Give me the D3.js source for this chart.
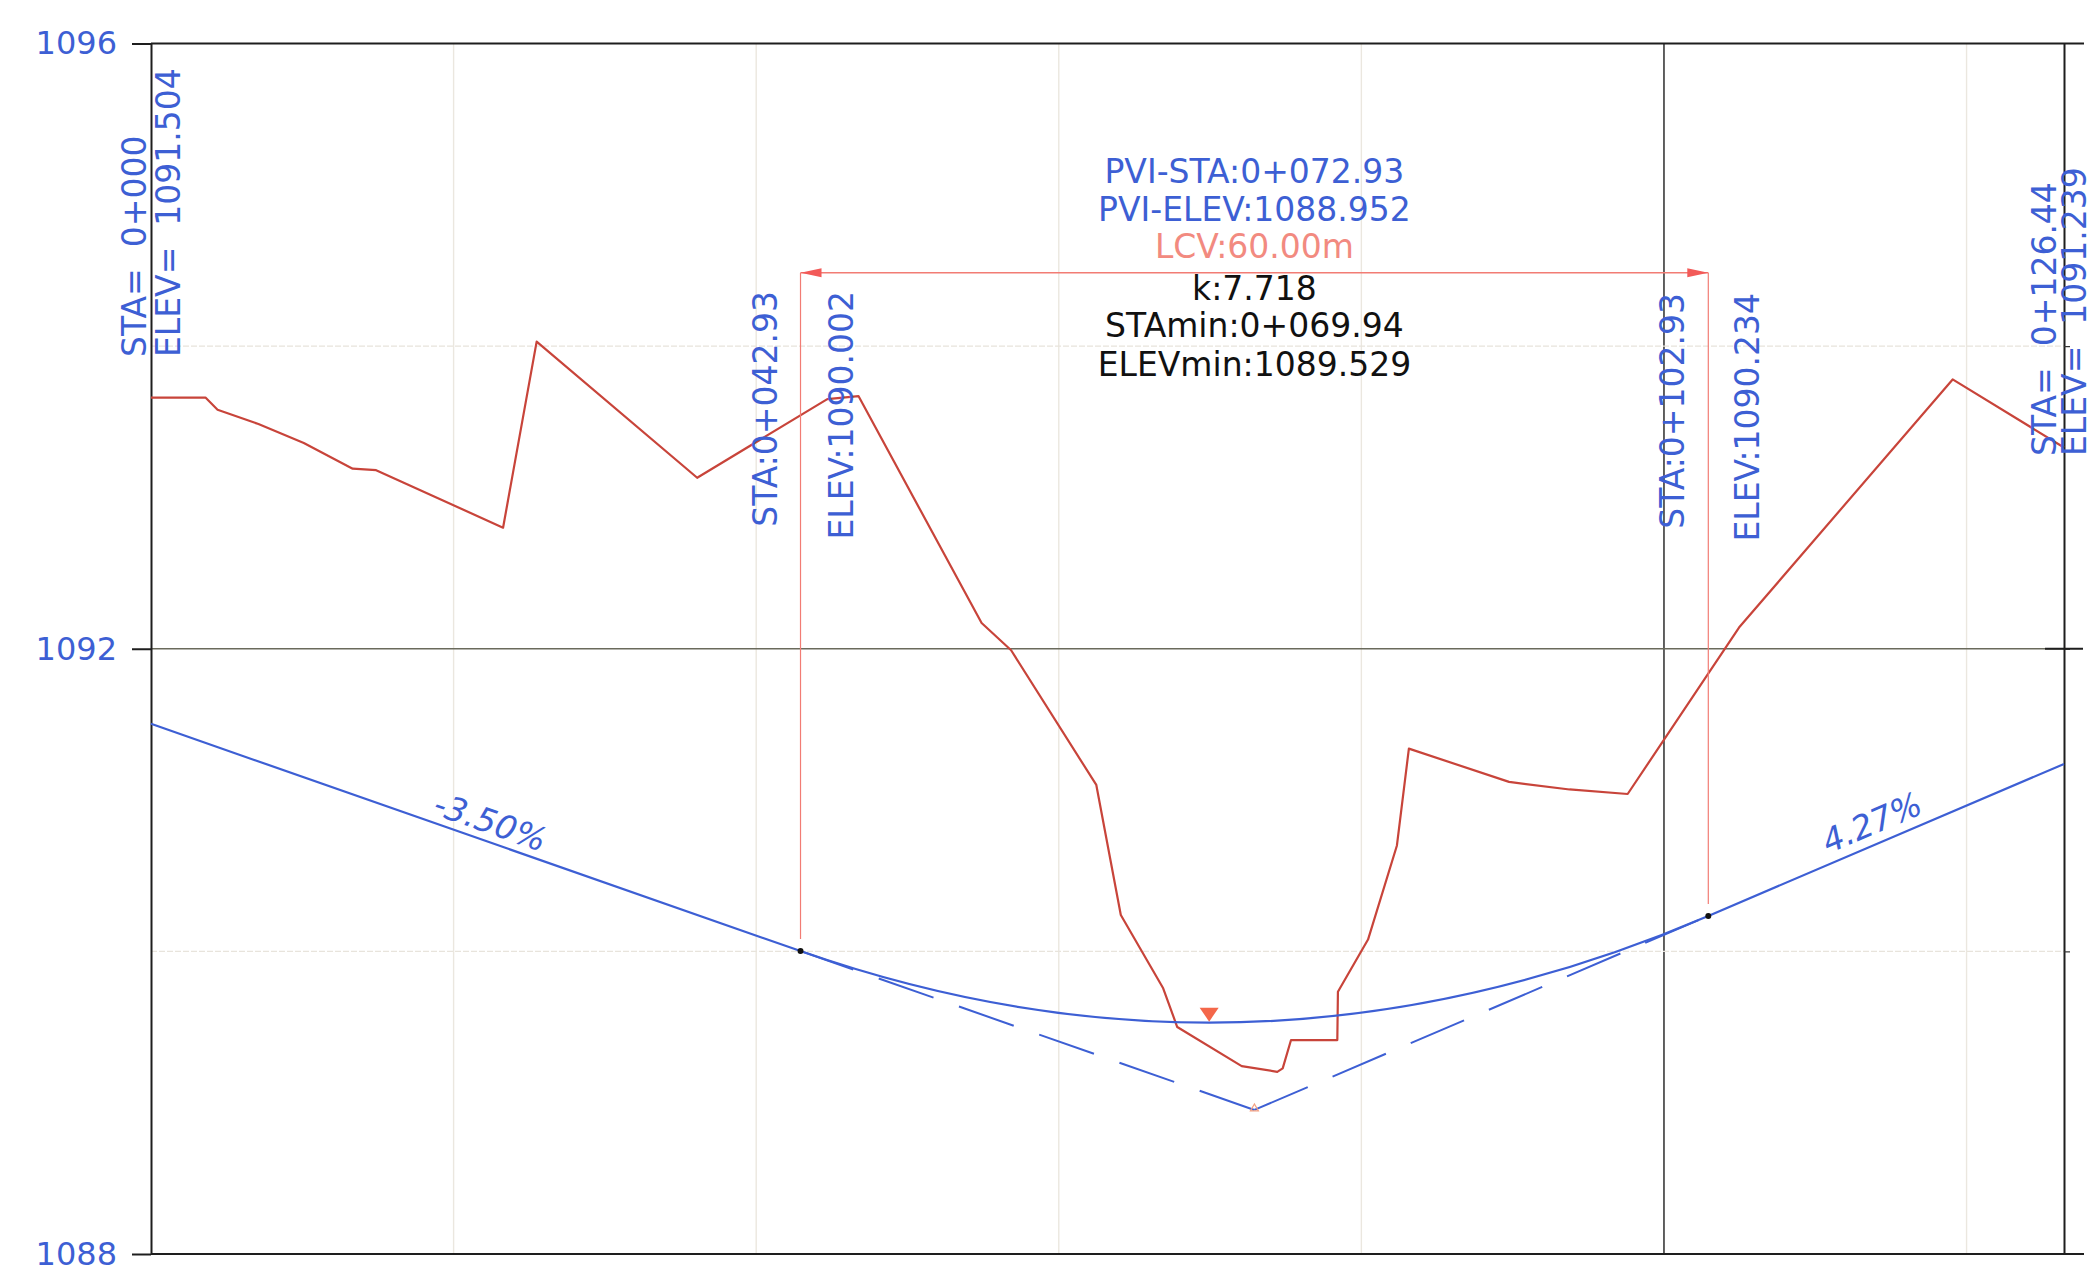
<!DOCTYPE html>
<html>
<head>
<meta charset="utf-8">
<script src="https://cdn.jsdelivr.net/npm/d3@7"></script>
<style>
  html, body { margin: 0; padding: 0; background: #ffffff; }
  svg { display: block; }
  text { font-family: "DejaVu Sans", "Liberation Sans", sans-serif; white-space: pre; }
</style>
</head>
<body>
<svg id="chart" width="2095" height="1273"></svg>
<script>
// ---------------- data ----------------
const yTickLabels = [1096, 1092, 1088];
const yMinorGrid = [1094, 1090];
const gridStations = [20, 40, 60, 80, 100, 120];

// existing ground profile (station m, elevation m)
const groundSta = [0, 3.6, 4.4, 7.1, 10.1, 13.33, 14.88, 23.27, 25.49, 36.1, 44.7, 46.76,
  54.9, 56.85, 62.48, 64.1, 66.9, 67.83, 72.09, 74.44, 74.8, 75.35, 78.41, 78.45,
  80.44, 82.35, 83.14, 89.76, 93.76, 97.6, 104.96, 119.08, 126.44];
const groundElev = [1093.66, 1093.66, 1093.58, 1093.485, 1093.36, 1093.19, 1093.18, 1092.80, 1094.03, 1093.13, 1093.65, 1093.67,
  1092.17, 1091.99, 1091.10, 1090.24, 1089.756, 1089.50, 1089.242, 1089.204, 1089.227, 1089.414, 1089.414, 1089.733,
  1090.078, 1090.70, 1091.34, 1091.12, 1091.07, 1091.04, 1092.14, 1093.78, 1093.33];

// design grade line: start, PVI, end
const pviSta = [0, 72.93, 126.44];
const pviElev = [1091.504, 1088.952, 1091.239];
const pviStaLabels = ["0+000", "0+072.93", "0+126.44"];
// vertical curve: PVC and PVT
const vcSta = [42.93, 102.93];
const vcElev = [1090.002, 1090.234];
const vcStaLabels = ["0+042.93", "0+102.93"];
const grades = ["-3.50%", "4.27%"];
const lcv = "60.00";
const kValue = "7.718";
const lowSta = 69.94, lowElev = 1089.529;
const lowStaLabel = "0+069.94";

// ---------------- layout ----------------
const svg = d3.select("#chart");
const x = d3.scaleLinear().domain([0, 126.44]).range([151, 2064]);
const y = d3.scaleLinear().domain([1088, 1096]).range([1254, 43.5]);
const BLUE = "#3d5fd4", RED = "#c8443a", PINK = "#f27c74", FS = 33;

// faint grids
svg.append("g").selectAll("line").data(gridStations).join("line")
  .attr("x1", d => x(d)).attr("x2", d => x(d))
  .attr("y1", y(1096)).attr("y2", y(1088))
  .attr("stroke", d => d === 100 ? "#3a3a3a" : "#ebe7df")
  .attr("stroke-width", d => d === 100 ? 1.6 : 1.4);
svg.append("g").selectAll("line").data(yMinorGrid).join("line")
  .attr("x1", x(0)).attr("x2", x(126.44))
  .attr("y1", d => y(d)).attr("y2", d => y(d))
  .attr("stroke", "#e8e4dc").attr("stroke-width", 1.4).attr("stroke-dasharray", "6 2");

// frame lines (top, middle, bottom)
svg.append("g").selectAll("line").data(yTickLabels).join("line")
  .attr("x1", x(0)).attr("x2", d => d === 1092 ? x(126.44) : x(126.44) + 20)
  .attr("y1", d => y(d)).attr("y2", d => y(d))
  .attr("stroke", d => d === 1092 ? "#6a6a5c" : "#1e1e1e")
  .attr("stroke-width", d => d === 1092 ? 1.6 : 2);

// left axis
const leftAxis = svg.append("g").attr("transform", `translate(${x(0)},0)`)
  .call(d3.axisLeft(y).tickValues(yTickLabels).tickSize(19).tickSizeOuter(0).tickPadding(15).tickFormat(d3.format("d")));
leftAxis.select(".domain").attr("stroke", "#1e1e1e").attr("stroke-width", 2);
leftAxis.selectAll(".tick line").attr("stroke", "#1e1e1e").attr("stroke-width", 2);
leftAxis.selectAll(".tick text").attr("fill", BLUE).attr("font-size", 32)
  .attr("font-family", "DejaVu Sans");

// right axis
const rightAxis = svg.append("g").attr("transform", `translate(${x(126.44)},0)`)
  .call(d3.axisRight(y).tickValues(yMinorGrid.concat([1092])).tickSize(6).tickSizeOuter(0).tickFormat(""));
rightAxis.select(".domain").attr("stroke", "#1e1e1e").attr("stroke-width", 2);
rightAxis.selectAll(".tick line").attr("stroke", "#333").attr("stroke-width", 1.2);
svg.append("line").attr("x1", x(126.44) - 19).attr("x2", x(126.44) + 19)
  .attr("y1", y(1092)).attr("y2", y(1092)).attr("stroke", "#1e1e1e").attr("stroke-width", 2);

// ground line
const ground = groundSta.map((s, i) => [s, groundElev[i]]);
svg.append("path").datum(ground)
  .attr("d", d3.line().x(d => x(d[0])).y(d => y(d[1])))
  .attr("fill", "none").attr("stroke", RED).attr("stroke-width", 2.2).attr("stroke-linejoin", "round");

// dashed tangents PVI->PVC and PVI->PVT
[[vcSta[0], vcElev[0]], [vcSta[1], vcElev[1]]].forEach(p => {
  svg.append("line")
    .attr("x1", x(pviSta[1])).attr("y1", y(pviElev[1]))
    .attr("x2", x(p[0])).attr("y2", y(p[1]))
    .attr("stroke", BLUE).attr("stroke-width", 2).attr("stroke-dasharray", "58 27");
});

// design line with parabolic vertical curve
const pth = d3.path();
pth.moveTo(x(pviSta[0]), y(pviElev[0]));
pth.lineTo(x(vcSta[0]), y(vcElev[0]));
pth.quadraticCurveTo(x(pviSta[1]), y(pviElev[1]), x(vcSta[1]), y(vcElev[1]));
pth.lineTo(x(pviSta[2]), y(pviElev[2]));
svg.append("path").attr("d", pth.toString())
  .attr("fill", "none").attr("stroke", BLUE).attr("stroke-width", 2.2);

// LCV dimension
const dimY = 272.7;
vcSta.forEach((s, i) => {
  svg.append("line").attr("x1", x(s)).attr("x2", x(s))
    .attr("y1", dimY).attr("y2", y(vcElev[i]) - 12)
    .attr("stroke", PINK).attr("stroke-width", 1.2);
});
svg.append("line").attr("x1", x(vcSta[0])).attr("x2", x(vcSta[1]))
  .attr("y1", dimY).attr("y2", dimY).attr("stroke", PINK).attr("stroke-width", 1.4);
svg.append("path")
  .attr("d", `M${x(vcSta[0])},${dimY} l21,-4.5 l0,9 Z M${x(vcSta[1])},${dimY} l-21,-4.5 l0,9 Z`)
  .attr("fill", "#f25a58");

// points
svg.append("g").selectAll("circle").data(vcSta).join("circle")
  .attr("cx", d => x(d)).attr("cy", (d, i) => y(vcElev[i])).attr("r", 3).attr("fill", "#111");
// low point marker
const lx = x(lowSta), ly = y(lowElev);
svg.append("path").attr("d", `M${lx},${ly - 1} l-9.5,-14 l19,0 Z`).attr("fill", "#f4674a");
// PVI marker
const px = x(pviSta[1]), py = y(pviElev[1]);
svg.append("path").attr("d", `M${px},${py - 6} l-4,7 l8,0 Z`).attr("fill", "none")
  .attr("stroke", "#f4a080").attr("stroke-width", 1.2);

// rotated station labels
function vlabel(tx, ty, txt, anchor) {
  svg.append("text").attr("transform", `translate(${tx},${ty}) rotate(-90)`)
    .attr("text-anchor", anchor).attr("font-size", FS).attr("fill", BLUE).text(txt);
}
vlabel(x(pviSta[0]) - 5, 357, "STA=  " + pviStaLabels[0], "start");
vlabel(x(pviSta[0]) + 29, 357, "ELEV=  " + pviElev[0].toFixed(3), "start");
vlabel(x(vcSta[0]) - 24, 291, "STA:" + vcStaLabels[0], "end");
vlabel(x(vcSta[0]) + 52, 291, "ELEV:" + vcElev[0].toFixed(3), "end");
vlabel(x(vcSta[1]) - 24, 293, "STA:" + vcStaLabels[1], "end");
vlabel(x(vcSta[1]) + 51, 293, "ELEV:" + vcElev[1].toFixed(3), "end");
vlabel(x(pviSta[2]) - 8, 456, "STA=  " + pviStaLabels[2], "start");
vlabel(x(pviSta[2]) + 22, 456, "ELEV=  " + pviElev[2].toFixed(3), "start");

// curve info block
const cx = x(pviSta[1]);
const info = [
  ["PVI-STA:" + pviStaLabels[1], BLUE, 183],
  ["PVI-ELEV:" + pviElev[1].toFixed(3), BLUE, 221],
  ["LCV:" + lcv + "m", "#f28a80", 258],
  ["k:" + kValue, "#111", 300],
  ["STAmin:" + lowStaLabel, "#111", 337],
  ["ELEVmin:" + lowElev.toFixed(3), "#111", 376]
];
svg.append("g").selectAll("text").data(info).join("text")
  .attr("x", cx).attr("y", d => d[2]).attr("text-anchor", "middle")
  .attr("font-size", FS).attr("fill", d => d[1]).text(d => d[0]);

// grade labels along tangents
function gradeLabel(sta, elev, g, txt, off) {
  const ang = Math.atan2(y(elev + g) - y(elev), x(sta + 100) - x(sta)) * 180 / Math.PI;
  svg.append("text")
    .attr("transform", `translate(${x(sta)},${y(elev)}) rotate(${ang}) translate(0,${off})`)
    .attr("text-anchor", "middle").attr("font-size", FS).attr("font-style", "italic")
    .attr("fill", BLUE).text(txt);
}
const s1 = 22.0, e1 = pviElev[0] + (pviElev[1] - pviElev[0]) * s1 / pviSta[1];
gradeLabel(s1, e1, -3.50, grades[0], -8);
const s2 = 114.3, e2 = pviElev[1] + (pviElev[2] - pviElev[1]) * (s2 - pviSta[1]) / (pviSta[2] - pviSta[1]);
gradeLabel(s2, e2, 4.27, grades[1], -10);
</script>
</body>
</html>
